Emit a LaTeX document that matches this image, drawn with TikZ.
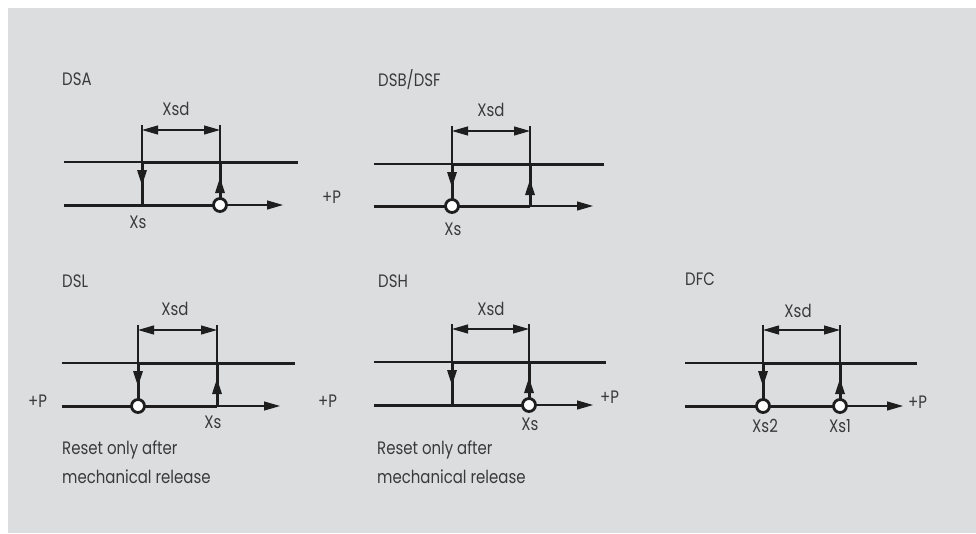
\documentclass[tikz,border=0pt]{standalone}
\usepackage{fontspec}
\setmainfont{Poppins}[FakeStretch=0.83]
\usetikzlibrary{arrows.meta,decorations.markings}
\definecolor{bg}{HTML}{DCDDDF}
\definecolor{ink}{HTML}{1E1E1E}
\definecolor{txt}{HTML}{3A3A3A}
\begin{document}
\begin{tikzpicture}[x=1pt,y=-1pt,
  thk/.style={line width=3pt, draw=ink},
  thn/.style={line width=1.1pt, draw=ink},
  dimline/.style={line width=1.1pt, draw=ink, {Triangle[length=16pt,width=9pt]}-{Triangle[length=16pt,width=9pt]}},
  ptr/.style={line width=1.1pt, draw=ink, -{Triangle[length=16pt,width=9pt]}},
  downmk/.style={postaction={decorate}, decoration={markings, mark=at position 24pt with {\arrow[ink]{Triangle[length=16pt,width=9pt]}}}},
  upmk/.style={postaction={decorate}, decoration={markings, mark=at position -15pt with {\arrow[ink]{Triangle[length=16pt,width=9pt]}}}},
  pt/.style={circle, draw=ink, line width=2.8pt, fill=white, minimum size=13pt, inner sep=0pt},
  lbl/.style={font=\fontsize{18}{21}\selectfont, text=txt, inner sep=0pt, anchor=base}
]
\useasboundingbox (0,0) rectangle (976,533);
\fill[bg] (8,8) rectangle (976,533);

% ---------------- DSA ----------------
\node[lbl, anchor=base west] (tA) at (62,85) {DSA};
\node[lbl] (xsdA) at (176,115) {Xsd};
\coordinate (A-ul) at (64,162); \coordinate (A-s) at (142,162); \coordinate (A-ur) at (298,162);
\coordinate (A-ll) at (64,205); \coordinate (A-sb) at (142,205);
\coordinate (A-cp) at (220,205); \coordinate (A-rt) at (220,162); \coordinate (A-e) at (283,205);
\coordinate (A-d1) at (142,125); \coordinate (A-d2) at (220,125);
\coordinate (A-m1) at (142,130); \coordinate (A-m2) at (220,130);
\draw[thn] (A-ul) -- (A-s);
\draw[thk] (A-s) -- (A-ur);
\draw[thk] (A-ll) -- (A-cp);
\draw[ptr] (A-cp) -- (A-e);
\draw[thk, downmk] (A-s) -- (A-sb);
\draw[thk, upmk] (A-cp) -- (A-rt);
\draw[thn] (A-d1) -- (A-s);
\draw[thn] (A-d2) -- (A-rt);
\draw[dimline] (A-m1) -- (A-m2);
\node[pt] (A-c) at (A-cp) {};
\node[lbl] (xsA) at (138,228) {Xs};
\node[lbl, anchor=base west] (pA) at (322,203) {+P};

% ---------------- DSB/DSF ----------------
\node[lbl, anchor=base west] (tB) at (378,86) {DSB/DSF};
\node[lbl] (xsdB) at (491,116) {Xsd};
\coordinate (B-ul) at (374,164); \coordinate (B-s) at (452,164); \coordinate (B-ur) at (604,164);
\coordinate (B-ll) at (374,206); \coordinate (B-cp) at (452,206);
\coordinate (B-lr) at (530,206); \coordinate (B-rt) at (530,164); \coordinate (B-e) at (593,206);
\coordinate (B-d1) at (452,126); \coordinate (B-d2) at (530,126);
\coordinate (B-m1) at (452,131); \coordinate (B-m2) at (530,131);
\draw[thn] (B-ul) -- (B-s);
\draw[thk] (B-s) -- (B-ur);
\draw[thk] (B-ll) -- (B-lr);
\draw[ptr] (B-lr) -- (B-e);
\draw[thk, downmk] (B-s) -- (B-cp);
\draw[thk, upmk] (B-lr) -- (B-rt);
\draw[thn] (B-d1) -- (B-s);
\draw[thn] (B-d2) -- (B-rt);
\draw[dimline] (B-m1) -- (B-m2);
\node[pt] (B-c) at (B-cp) {};
\node[lbl] (xsB) at (453,235) {Xs};

% ---------------- DSL ----------------
\node[lbl, anchor=base west] (tL) at (62,287) {DSL};
\node[lbl] (xsdL) at (175,315) {Xsd};
\coordinate (L-ul) at (62,363); \coordinate (L-s) at (138,363); \coordinate (L-ur) at (295,363);
\coordinate (L-ll) at (62,406); \coordinate (L-cp) at (138,406);
\coordinate (L-lr) at (217,406); \coordinate (L-rt) at (217,363); \coordinate (L-e) at (280,406);
\coordinate (L-d1) at (138,325); \coordinate (L-d2) at (217,325);
\coordinate (L-m1) at (138,330); \coordinate (L-m2) at (217,330);
\draw[thn] (L-ul) -- (L-s);
\draw[thk] (L-s) -- (L-ur);
\draw[thk] (L-ll) -- (L-lr);
\draw[ptr] (L-lr) -- (L-e);
\draw[thk, downmk] (L-s) -- (L-cp);
\draw[thk, upmk] (L-lr) -- (L-rt);
\draw[thn] (L-d1) -- (L-s);
\draw[thn] (L-d2) -- (L-rt);
\draw[dimline] (L-m1) -- (L-m2);
\node[pt] (L-c) at (L-cp) {};
\node[lbl, anchor=base west] (pL) at (28,407) {+P};
\node[lbl] (xsL) at (213,428) {Xs};
\node[lbl, anchor=base west] (rL1) at (62,454) {Reset only after};
\node[lbl, anchor=base west] (rL2) at (62,483) {mechanical release};

% ---------------- DSH ----------------
\node[lbl, anchor=base west] (tH) at (378,287) {DSH};
\node[lbl] (xsdH) at (491,315) {Xsd};
\coordinate (H-ul) at (374,362); \coordinate (H-s) at (452,362); \coordinate (H-ur) at (606,362);
\coordinate (H-ll) at (374,405); \coordinate (H-sb) at (452,405);
\coordinate (H-cp) at (529,405); \coordinate (H-rt) at (529,362); \coordinate (H-e) at (593,405);
\coordinate (H-d1) at (452,324); \coordinate (H-d2) at (529,324);
\coordinate (H-m1) at (452,329); \coordinate (H-m2) at (529,329);
\draw[thn] (H-ul) -- (H-s);
\draw[thk] (H-s) -- (H-ur);
\draw[thk] (H-ll) -- (H-cp);
\draw[ptr] (H-cp) -- (H-e);
\draw[thk, downmk] (H-s) -- (H-sb);
\draw[thk, upmk] (H-cp) -- (H-rt);
\draw[thn] (H-d1) -- (H-s);
\draw[thn] (H-d2) -- (H-rt);
\draw[dimline] (H-m1) -- (H-m2);
\node[pt] (H-c) at (H-cp) {};
\node[lbl, anchor=base west] (pH1) at (318,407) {+P};
\node[lbl, anchor=base west] (pH2) at (600,403) {+P};
\node[lbl] (xsH) at (530,430) {Xs};
\node[lbl, anchor=base west] (rH1) at (377,454) {Reset only after};
\node[lbl, anchor=base west] (rH2) at (377,483) {mechanical release};

% ---------------- DFC ----------------
\node[lbl, anchor=base west] (tF) at (685,285) {DFC};
\node[lbl] (xsdF) at (798,317) {Xsd};
\coordinate (F-ul) at (685,363); \coordinate (F-s) at (763,363); \coordinate (F-ur) at (917,363);
\coordinate (F-ll) at (685,406); \coordinate (F-cp2) at (763,406);
\coordinate (F-cp1) at (840,406); \coordinate (F-rt) at (840,363); \coordinate (F-e) at (903,406);
\coordinate (F-d1) at (763,325); \coordinate (F-d2) at (840,325);
\coordinate (F-m1) at (763,330); \coordinate (F-m2) at (840,330);
\draw[thn] (F-ul) -- (F-s);
\draw[thk] (F-s) -- (F-ur);
\draw[thk] (F-ll) -- (F-cp1);
\draw[ptr] (F-cp1) -- (F-e);
\draw[thk, downmk] (F-s) -- (F-cp2);
\draw[thk, upmk] (F-cp1) -- (F-rt);
\draw[thn] (F-d1) -- (F-s);
\draw[thn] (F-d2) -- (F-rt);
\draw[dimline] (F-m1) -- (F-m2);
\node[pt] (F-c2) at (F-cp2) {};
\node[pt] (F-c1) at (F-cp1) {};
\node[lbl, anchor=base west] (pF) at (908,408) {+P};
\node[lbl] (xsF2) at (765,432) {Xs2};
\node[lbl] (xsF1) at (840,432) {Xs1};
\end{tikzpicture}
\end{document}
